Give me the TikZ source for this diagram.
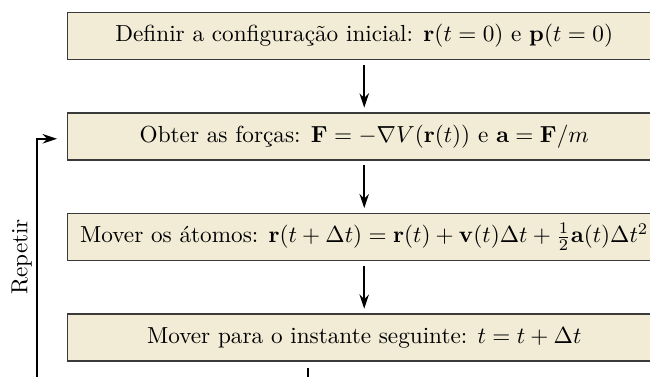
\documentclass[tikz,border=0pt]{standalone}
\usepackage{amsmath}
\usepackage{tikz}
\usetikzlibrary{arrows.meta,positioning,calc}
\definecolor{StepFill}{HTML}{F2EBD6}
\definecolor{StepEdge}{HTML}{3A3A3A}
\tikzset{
  stepbox/.style={draw=StepEdge, line width=0.6pt, fill=StepFill, text width=246.9pt, minimum height=20.2pt, inner xsep=4.3pt, inner ysep=3pt, align=flush center},
  steparrow/.style={-{Stealth[length=6.2pt,width=4.1pt]}, line width=0.8pt, shorten <=2pt, shorten >=2pt},
  looparrow/.style={-{Stealth[length=6.2pt,width=4.1pt]}, line width=0.8pt}
}

\begin{document}
\begin{tikzpicture}[node distance=22.5pt]
\clip (0,0) rectangle (280pt,-162.1pt);
\node[stepbox] (init) at (156.9pt,-15.5pt) {Definir a configuração inicial: $\mathbf{r}(t=0)$ e $\mathbf{p}(t=0)$};
\node[stepbox, below=of init] (forca) {Obter as forças: $\mathbf{F}=-\nabla V(\mathbf{r}(t))$ e $\mathbf{a}=\mathbf{F}/m$};
\node[stepbox, below=of forca] (mover) {\mbox{Mover os átomos: $\mathbf{r}(t+\Delta t)=\mathbf{r}(t)+\mathbf{v}(t)\Delta t+\frac{1}{2}\mathbf{a}(t)\Delta t^2$}};
\node[stepbox, below=of mover] (passo) {Mover para o instante seguinte: $t=t+\Delta t$};
\draw[steparrow] (init) -- (forca);
\draw[steparrow] (forca) -- (mover);
\draw[steparrow] (mover) -- (passo);
% volta ao passo das forcas
\coordinate (fundo) at ($(passo.south)+(-24.1pt,-12.3pt)$);
\coordinate (canto) at (15.9pt,0 |- fundo);
\coordinate (alvo) at ($(forca.west)+(-4.3pt,-1pt)$);
\draw[looparrow] ($(passo.south)+(-24.1pt,-2.6pt)$) -- (fundo) -- (canto)
  -- node[pos=0.53, rotate=90, anchor=south, inner sep=1.8pt] {Repetir} (canto |- alvo) -- (alvo);
\end{tikzpicture}
\end{document}
